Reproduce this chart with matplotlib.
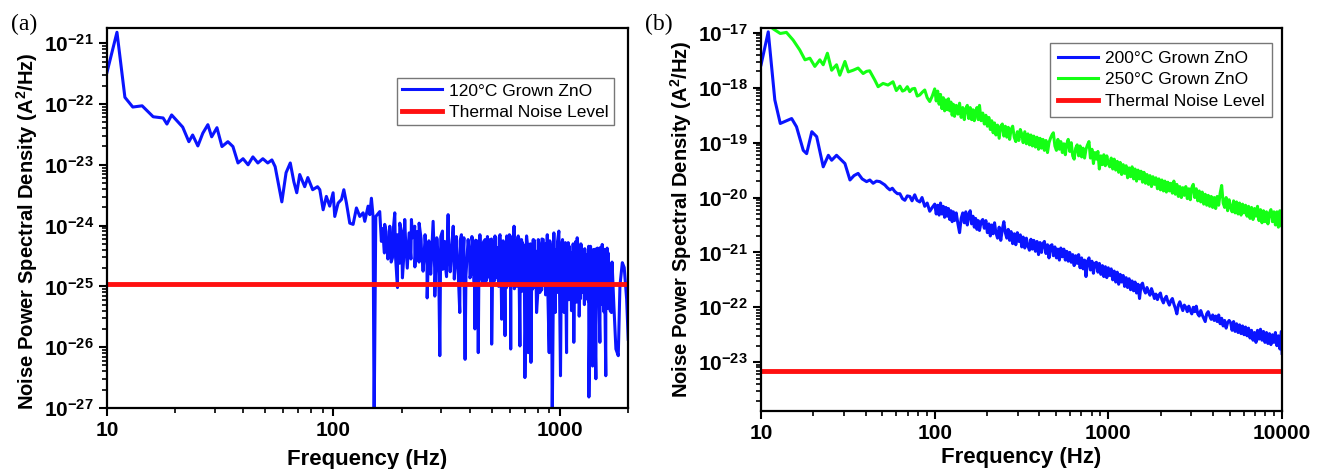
import numpy as np
import matplotlib
matplotlib.use("Agg")
import matplotlib.pyplot as plt
from matplotlib.ticker import LogLocator, FixedLocator, FuncFormatter, NullFormatter

plt.rcParams['font.family'] = ['Liberation Sans', 'DejaVu Sans']
plt.rcParams['mathtext.fontset'] = 'custom'
plt.rcParams['mathtext.rm'] = 'Liberation Sans'
plt.rcParams['mathtext.bf'] = 'Liberation Sans:bold'

# ---- panel (a): 120 C grown ZnO, frequency in Hz, PSD as log10(A^2/Hz)
freq_a = [10.0, 11.07, 12.0, 13.0, 14.3, 16.0, 17.7, 18.4, 19.3, 21.6,
          23.0, 23.9, 25.2, 26.5, 27.9, 29.0, 30.6, 32.2, 34.2, 36.0,
          37.9, 39.9, 42.0, 44.1, 46.4, 48.8, 51.3, 53.5, 55.3, 59.2,
          61.8, 64.5, 66.9, 68.9, 71.0, 74.7, 77.1, 81.0, 85.1, 87.1,
          90.1, 93.1, 96.3, 99.7, 101.4, 104.9, 108.6, 111.2, 114.2, 118.1,
          122.2, 126.4, 130.8, 135.3, 137.6, 142.3, 144.8, 147.2, 149.7, 151.3,
          153.9, 160.2, 162.9, 168.5, 174.4, 177.4, 182.3, 186.7, 191.9, 196.4,
          201.8, 206.6, 213.6, 221.1, 228.7, 232.6, 239.1, 244.8, 253.3, 259.5,
          266.5, 275.7, 280.5, 287.2, 295.1, 303.3, 310.6, 321.1, 328.6, 338.2,
          349.6, 361.6, 367.7, 377.7, 381.6, 393.6, 400.5, 407.4, 414.6, 421.7,
          428.9, 436.3, 443.7, 447.5, 451.4, 459.0, 467.2, 475.0, 483.4, 491.6,
          500.1, 508.6, 517.3, 526.0, 535.3, 544.4, 553.8, 563.3, 572.9, 582.8,
          592.7, 598.8, 606.9, 613.0, 619.4, 627.9, 634.0, 640.3, 648.0, 655.3,
          666.4, 677.8, 689.4, 701.2, 713.2, 725.5, 733.0, 745.6, 754.0, 763.1,
          776.2, 789.5, 803.1, 816.8, 831.0, 845.3, 859.8, 870.0, 880.2, 897.6,
          909.8, 925.4, 941.3, 954.2, 963.0, 973.7, 990.4, 1007, 1017, 1028,
          1045, 1058, 1071, 1089, 1107, 1126, 1140, 1153, 1177, 1193,
          1218, 1232, 1247, 1262, 1277, 1303, 1321, 1344, 1367, 1395,
          1419, 1443, 1468, 1485, 1503, 1539, 1555, 1570, 1596, 1618,
          1634, 1651, 1691, 1733, 1769, 1812, 1843, 1888, 1925, 1973,
          2005]
psd_a = [-21.48, -20.82, -21.89, -22.05, -22.03, -22.21, -22.23, -22.33, -22.18, -22.38,
         -22.62, -22.51, -22.69, -22.48, -22.34, -22.54, -22.39, -22.70, -22.62, -22.70,
         -22.97, -22.90, -23.00, -22.87, -22.97, -22.90, -22.97, -22.92, -23.03, -23.61,
         -23.13, -22.97, -23.28, -23.46, -23.16, -23.36, -23.21, -23.41, -23.36, -23.41,
         -23.74, -23.52, -23.68, -23.46, -23.85, -23.63, -23.57, -23.41, -23.63, -23.96,
         -23.98, -23.71, -23.85, -23.79, -23.93, -23.68, -23.82, -23.55, -23.85, -27.30,
         -23.85, -23.77, -24.26, -23.98, -24.39, -24.01, -24.53, -23.79, -25.02, -23.96,
         -24.86, -23.90, -24.47, -23.90, -24.01, -24.28, -23.96, -24.39, -24.28, -25.19,
         -24.39, -23.93, -25.16, -24.23, -26.14, -24.09, -24.56, -23.82, -24.72, -24.01,
         -24.34, -25.43, -24.15, -24.83, -26.20, -24.23, -24.55, -24.72, -24.28, -25.70,
         -24.56, -26.09, -24.15, -24.60, -24.78, -24.30, -24.23, -24.85, -24.72, -24.23,
         -25.95, -24.56, -24.17, -24.80, -24.72, -24.15, -25.54, -24.56, -25.81, -24.17,
         -24.72, -24.15, -26.03, -24.40, -24.17, -24.01, -24.70, -24.72, -24.25, -24.17,
         -25.98, -24.23, -24.99, -26.50, -24.17, -26.09, -24.61, -26.25, -24.50, -24.23,
         -24.78, -25.43, -24.23, -25.10, -24.45, -24.23, -24.56, -24.90, -24.15, -26.09,
         -24.34, -27.30, -24.12, -25.43, -24.60, -24.72, -24.09, -26.47, -24.50, -24.23,
         -25.43, -24.40, -26.09, -24.28, -24.67, -25.40, -24.45, -25.92, -24.26, -24.20,
         -25.49, -24.60, -24.37, -24.90, -24.48, -25.10, -24.50, -26.82, -24.34, -26.31,
         -24.39, -26.52, -24.37, -25.00, -25.92, -24.31, -24.80, -24.39, -26.47, -24.37,
         -24.70, -24.99, -25.43, -25.32, -26.03, -26.14, -24.99, -24.61, -24.69, -25.21,
         -25.87]
# extra samples read inside the dense part of the (a) trace
freq_a_dense = [165, 168, 171, 174, 177, 180, 184, 188, 192, 196,
                200, 204, 208, 212, 216, 220, 224, 229, 234, 239,
                244, 249, 254, 259, 264, 269, 274, 280, 286, 292,
                298, 304, 310, 316, 322, 328, 335, 342, 349, 356,
                363, 370, 377, 385, 393, 401, 409, 417, 425, 434,
                443, 452, 461, 470, 479, 489, 499, 509, 519, 529,
                540, 551, 562, 573, 584, 596, 608, 620, 632, 645,
                658, 671, 684, 698, 712, 726, 741, 756, 771, 786,
                802, 818, 834, 851, 868, 885, 903, 921, 939, 958,
                977, 997, 1017, 1037, 1058, 1079, 1101, 1123, 1145, 1168,
                1191, 1215, 1239, 1264, 1289, 1315, 1341, 1368, 1395, 1423,
                1452, 1481, 1511, 1541, 1572, 1603, 1635, 1668, 1701]
psd_a_dense = [-24.05, -24.45, -24.10, -24.55, -24.20, -24.60, -24.05, -24.50, -24.15, -24.62,
               -24.10, -24.58, -24.18, -24.70, -24.12, -24.55, -24.20, -24.68, -24.10, -24.60,
               -24.22, -24.75, -24.15, -24.66, -24.25, -24.80, -24.12, -24.70, -24.20, -24.78,
               -24.18, -24.72, -24.26, -24.84, -24.15, -24.76, -24.22, -24.88, -24.18, -24.80,
               -24.25, -24.90, -24.20, -24.82, -24.28, -24.86, -24.18, -24.92, -24.24, -24.80,
               -24.20, -24.88, -24.26, -24.95, -24.18, -24.84, -24.22, -24.92, -24.28, -24.86,
               -24.20, -24.95, -24.25, -24.88, -24.18, -24.98, -24.22, -24.90, -24.26, -25.00,
               -24.20, -24.92, -24.28, -25.02, -24.22, -24.95, -24.30, -25.05, -24.24, -24.98,
               -24.28, -25.05, -24.22, -24.98, -24.30, -25.08, -24.25, -25.00, -24.32, -25.10,
               -24.26, -25.05, -24.32, -25.12, -24.28, -25.02, -24.34, -25.15, -24.30, -25.08,
               -24.36, -25.15, -24.30, -25.10, -24.38, -25.20, -24.34, -25.12, -24.40, -25.25,
               -24.38, -25.18, -24.36, -25.30, -24.42, -25.35, -24.45, -25.40, -24.60]
freq_a_dense2 = [405, 413, 421, 430, 439, 448, 457, 466, 476, 486,
                 496, 506, 516, 526, 537, 548, 559, 570, 582, 594,
                 606, 618, 630, 643, 656, 669, 682, 696, 710, 724,
                 738, 753, 768, 783, 799, 815, 831, 848, 865, 882,
                 900, 918, 936, 955, 974, 993, 1013, 1033, 1054, 1075,
                 1096, 1118, 1140, 1163, 1186, 1210, 1234, 1259, 1284, 1310,
                 1336, 1363, 1390, 1418, 1446, 1475, 1505, 1535, 1566, 1597,
                 1629, 1645]
psd_a_dense2 = [-24.80, -24.30, -24.92, -24.25, -24.86, -24.35, -24.95, -24.28, -24.88, -24.32,
                -24.98, -24.26, -24.90, -24.36, -25.00, -24.30, -24.92, -24.34, -25.02, -24.28,
                -24.94, -24.38, -25.04, -24.30, -24.96, -24.36, -25.08, -24.32, -25.00, -24.40,
                -25.10, -24.34, -25.02, -24.42, -25.12, -24.36, -25.06, -24.44, -25.14, -24.38,
                -25.08, -24.46, -25.16, -24.40, -25.10, -24.48, -25.20, -24.42, -25.14, -24.50,
                -25.22, -24.44, -25.18, -24.52, -25.26, -24.46, -25.20, -24.54, -25.30, -24.48,
                -25.24, -24.56, -25.34, -24.50, -25.30, -24.58, -25.38, -24.52, -25.42, -24.60,
                -25.36, -24.70]
thermal_a = 1.1e-25

# ---- panel (b): 200 C and 250 C grown ZnO
freq_b200_low = [10.0, 11.0, 12.0, 12.9, 14.0, 15.0, 16.0, 17.5, 18.3, 19.6,
                 20.9, 22.8, 24.4, 25.5, 27.2, 29.1, 30.4, 32.5, 34.3, 36.2,
                 38.2, 40.5, 42.3, 44.2, 46.2, 48.3, 51.6, 53.3, 55.2, 57.0,
                 58.9, 61.0, 63.0, 65.2, 67.3, 69.5, 71.9, 74.0, 76.7, 79.0,
                 82.0, 84.5, 87.6, 90.5, 93.6, 96.8]
psd_b200_low = [-17.58, -16.98, -18.22, -18.65, -18.60, -18.56, -18.71, -19.14, -19.20, -18.80,
                -18.89, -19.44, -19.23, -19.32, -19.23, -19.32, -19.38, -19.68, -19.60, -19.56,
                -19.66, -19.71, -19.68, -19.74, -19.70, -19.71, -19.77, -19.82, -19.86, -19.83,
                -19.89, -19.93, -19.93, -20.02, -20.05, -19.97, -19.98, -20.06, -19.95, -20.05,
                -20.08, -20.00, -20.16, -20.10, -20.25, -20.18]
freq_b250_low = [11.0, 11.8, 12.9, 14.0, 15.3, 16.7, 17.9, 19.1, 20.4, 21.8,
                 22.8, 24.1, 25.5, 27.2, 28.4, 30.4, 31.8, 33.9, 36.2, 38.7,
                 40.5, 42.2, 45.2, 47.2, 50.4, 53.8, 57.5, 60.1, 63.0, 65.2,
                 67.3, 69.5, 71.8, 74.2, 76.7, 79.3, 82.0, 84.8, 87.6, 90.5,
                 93.6, 96.8]
psd_b250_low = [-16.85, -16.93, -17.01, -16.99, -17.13, -17.31, -17.49, -17.46, -17.61, -17.49,
                -17.58, -17.37, -17.68, -17.58, -17.77, -17.52, -17.71, -17.68, -17.64, -17.74,
                -17.70, -17.69, -17.86, -17.98, -17.92, -17.95, -17.89, -18.05, -17.97, -18.06,
                -18.04, -17.98, -18.07, -18.02, -18.01, -18.15, -18.13, -18.08, -18.04, -18.18,
                -18.25, -18.15]
# frequencies above 100 Hz, shared by both (b) traces
freq_b_high = [100, 102, 104, 106, 108, 110, 112, 114, 116, 118,
               120, 122, 124, 126, 128, 130, 133, 136, 139, 142,
               145, 148, 151, 154, 157, 160, 163, 166, 169, 172,
               175, 178, 181, 185, 189, 193, 197, 201, 205, 209,
               213, 217, 221, 225, 230, 235, 240, 245, 250, 255,
               260, 265, 270, 275, 281, 287, 293, 299, 305, 311,
               317, 323, 330, 337, 344, 351, 358, 365, 372, 380,
               388, 396, 404, 412, 420, 428, 437, 446, 455, 464,
               473, 482, 492, 502, 512, 522, 532, 543, 554, 565,
               576, 587, 599, 611, 623, 635, 648, 661, 674, 687,
               701, 715, 729, 743, 758, 773, 788, 804, 820, 836,
               853, 870, 887, 905, 923, 941, 960, 979, 998, 1018,
               1038, 1059, 1080, 1102, 1124, 1146, 1169, 1192, 1216, 1240,
               1265, 1290, 1316, 1342, 1369, 1396, 1424, 1452, 1481, 1511,
               1541, 1572, 1603, 1635, 1668, 1701, 1735, 1770, 1805, 1841,
               1878, 1916, 1954, 1993, 2033, 2074, 2115, 2157, 2200, 2244,
               2289, 2335, 2382, 2430, 2478, 2528, 2578, 2630, 2682, 2736,
               2791, 2847, 2904, 2962, 3021, 3081, 3143, 3206, 3270, 3335,
               3402, 3470, 3539, 3610, 3682, 3756, 3831, 3908, 3986, 4066,
               4147, 4230, 4315, 4401, 4489, 4579, 4671, 4764, 4859, 4956,
               5055, 5156, 5259, 5364, 5471, 5581, 5692, 5806, 5922, 6041,
               6162, 6285, 6411, 6539, 6670, 6803, 6939, 7078, 7220, 7364,
               7511, 7661, 7814, 7970, 8130, 8292, 8458, 8627, 8800, 8976,
               9155, 9338, 9525, 9716, 9910, 10000]
psd_b200_high = [-20.12, -20.30, -20.14, -20.32, -20.10, -20.30, -20.16, -20.36, -20.18, -20.34,
                 -20.20, -20.40, -20.24, -20.44, -20.26, -20.42, -20.28, -20.48, -20.64, -20.38,
                 -20.28, -20.46, -20.26, -20.50, -20.32, -20.24, -20.48, -20.34, -20.54, -20.38,
                 -20.58, -20.42, -20.60, -20.44, -20.40, -20.56, -20.42, -20.64, -20.48, -20.70,
                 -20.50, -20.66, -20.46, -20.64, -20.74, -20.54, -20.78, -20.58, -20.44, -20.64,
                 -20.74, -20.58, -20.78, -20.62, -20.84, -20.66, -20.86, -20.64, -20.80, -20.68,
                 -20.90, -20.72, -20.92, -20.74, -20.88, -20.96, -20.76, -20.94, -20.78, -20.98,
                 -20.80, -21.04, -20.82, -21.00, -20.84, -20.80, -21.02, -20.86, -21.10, -20.88,
                 -20.86, -21.06, -20.90, -21.10, -20.94, -21.14, -20.92, -21.08, -20.94, -21.14,
                 -20.98, -21.16, -21.00, -21.18, -21.04, -21.24, -21.06, -21.20, -21.04, -21.28,
                 -21.10, -21.30, -21.14, -21.44, -21.16, -21.10, -21.32, -21.16, -21.38, -21.20,
                 -21.18, -21.36, -21.20, -21.40, -21.24, -21.44, -21.26, -21.46, -21.28, -21.42,
                 -21.30, -21.50, -21.34, -21.54, -21.36, -21.58, -21.40, -21.54, -21.42, -21.62,
                 -21.46, -21.64, -21.48, -21.68, -21.52, -21.70, -21.54, -21.74, -21.58, -21.84,
                 -21.60, -21.56, -21.68, -21.74, -21.64, -21.72, -21.78, -21.66, -21.74, -21.84,
                 -21.76, -21.86, -21.78, -21.74, -21.86, -21.92, -21.84, -21.80, -21.90, -21.96,
                 -21.88, -21.84, -21.94, -22.02, -22.12, -21.96, -21.90, -21.98, -22.06, -21.96,
                 -22.00, -22.08, -21.98, -22.06, -22.12, -22.00, -22.08, -21.98, -22.12, -22.16,
                 -22.06, -22.14, -22.20, -22.26, -22.12, -22.08, -22.16, -22.22, -22.14, -22.24,
                 -22.16, -22.26, -22.14, -22.30, -22.20, -22.34, -22.24, -22.38, -22.28, -22.24,
                 -22.28, -22.42, -22.26, -22.44, -22.30, -22.46, -22.32, -22.48, -22.34, -22.50,
                 -22.36, -22.52, -22.38, -22.56, -22.42, -22.60, -22.46, -22.64, -22.42, -22.58,
                 -22.40, -22.60, -22.44, -22.64, -22.46, -22.66, -22.48, -22.68, -22.50, -22.64,
                 -22.46, -22.70, -22.52, -22.76, -22.44, -22.84]
psd_b250_high = [-18.02, -18.24, -18.06, -18.30, -18.12, -18.38, -18.18, -18.42, -18.22, -18.40,
                 -18.20, -18.42, -18.26, -18.50, -18.30, -18.52, -18.32, -18.48, -18.28, -18.54,
                 -18.36, -18.58, -18.38, -18.32, -18.56, -18.36, -18.58, -18.40, -18.60, -18.42,
                 -18.36, -18.58, -18.32, -18.60, -18.46, -18.66, -18.50, -18.70, -18.54, -18.76,
                 -18.60, -18.82, -18.64, -18.86, -18.68, -18.92, -18.70, -18.66, -18.88, -18.70,
                 -18.90, -18.72, -18.94, -18.76, -18.70, -18.90, -18.98, -18.80, -18.96, -18.76,
                 -18.84, -19.00, -18.80, -19.02, -18.84, -19.04, -18.86, -19.06, -18.88, -19.08,
                 -18.90, -19.12, -18.92, -19.10, -18.94, -19.14, -18.96, -19.18, -19.00, -18.92,
                 -18.86, -18.82, -19.06, -19.14, -18.94, -19.12, -18.98, -19.18, -19.02, -19.22,
                 -19.02, -18.94, -19.16, -19.00, -19.24, -19.30, -19.10, -19.04, -19.24, -19.06,
                 -19.26, -19.10, -19.28, -19.12, -19.04, -18.98, -19.28, -19.12, -19.38, -19.18,
                 -19.30, -19.16, -19.48, -19.24, -19.40, -19.22, -19.42, -19.24, -19.38, -19.44,
                 -19.28, -19.48, -19.30, -19.50, -19.34, -19.54, -19.36, -19.58, -19.40, -19.56,
                 -19.42, -19.64, -19.46, -19.62, -19.44, -19.66, -19.48, -19.70, -19.50, -19.66,
                 -19.52, -19.72, -19.54, -19.74, -19.58, -19.76, -19.60, -19.80, -19.62, -19.76,
                 -19.64, -19.84, -19.66, -19.86, -19.68, -19.88, -19.70, -19.90, -19.72, -19.88,
                 -19.74, -19.92, -19.70, -19.94, -19.76, -19.98, -19.80, -20.00, -19.82, -19.96,
                 -19.80, -20.02, -19.84, -20.04, -19.82, -19.76, -20.00, -19.84, -20.06, -19.88,
                 -20.08, -19.90, -20.12, -19.94, -20.14, -19.96, -20.16, -19.98, -20.18, -20.00,
                 -20.20, -19.98, -20.14, -19.92, -19.78, -20.10, -20.18, -20.00, -20.24, -20.04,
                 -20.18, -20.26, -20.06, -20.28, -20.08, -20.30, -20.10, -20.32, -20.12, -20.28,
                 -20.14, -20.34, -20.16, -20.38, -20.18, -20.40, -20.20, -20.34, -20.16, -20.42,
                 -20.22, -20.46, -20.24, -20.44, -20.26, -20.48, -20.28, -20.22, -20.44, -20.26,
                 -20.50, -20.26, -20.54, -20.24, -20.52, -20.34]
thermal_b = 6.9e-24

xticks_a = [10, 100, 1000]
xticks_b = [10, 100, 1000, 10000]
yticks_a = [1e-27, 1e-26, 1e-25, 1e-24, 1e-23, 1e-22, 1e-21]
yticks_b = [1e-23, 1e-22, 1e-21, 1e-20, 1e-19, 1e-18, 1e-17]


def merge(*parts):
    f = np.concatenate([p[0] for p in parts])
    v = np.concatenate([p[1] for p in parts])
    order = np.argsort(f, kind='stable')
    return f[order], 10.0 ** v[order]


def style_axes(ax, xticks, yticks, ylim, xlim, ylab_y, xpad):
    ax.set_xscale('log')
    ax.set_yscale('log')
    ax.set_xlim(*xlim)
    ax.set_ylim(*ylim)
    ax.xaxis.set_major_locator(FixedLocator(xticks))
    ax.xaxis.set_major_formatter(FuncFormatter(lambda v, p: '%d' % round(v)))
    ax.xaxis.set_minor_locator(LogLocator(base=10, subs=np.arange(2, 10), numticks=50))
    ax.xaxis.set_minor_formatter(NullFormatter())
    ax.yaxis.set_major_locator(FixedLocator(yticks))
    ax.yaxis.set_major_formatter(FuncFormatter(
        lambda v, p: r'$\mathbf{10^{%d}}$' % round(np.log10(v))))
    ax.yaxis.set_minor_locator(LogLocator(base=10, subs=np.arange(2, 10), numticks=50))
    ax.yaxis.set_minor_formatter(NullFormatter())
    ax.tick_params(which='major', direction='out', length=6, width=1.5,
                   labelsize=15, top=False, right=False)
    ax.tick_params(which='minor', direction='out', length=3.5, width=1.2,
                   top=False, right=False)
    for lab in ax.get_xticklabels():
        lab.set_fontweight('bold')
    for s in ax.spines.values():
        s.set_linewidth(1.6)
    ax.set_xlabel('Frequency (Hz)', fontsize=16, fontweight='bold', labelpad=xpad)
    ax.set_ylabel(r'Noise Power Spectral Density (A$^{\mathbf{2}}$/Hz)',
                  fontsize=14.5, fontweight='bold')
    ax.yaxis.set_label_coords(-0.128, ylab_y)


def add_legend(ax, anchor, pad):
    ax.legend(loc='upper right', bbox_to_anchor=anchor, borderaxespad=0,
              fontsize=12.5, frameon=True, fancybox=False, edgecolor='#555555',
              handlelength=2.3, handletextpad=0.4, borderpad=pad,
              labelspacing=0.37)


fig = plt.figure(figsize=(13.19, 4.69), dpi=100)
ax1 = fig.add_axes([0.0811, 0.1301, 0.3950, 0.8102])
ax2 = fig.add_axes([0.5770, 0.1237, 0.3950, 0.8166])

fa, pa = merge((freq_a, psd_a), (freq_a_dense, psd_a_dense),
               (freq_a_dense2, psd_a_dense2))
ax1.plot(fa, pa, color='#0a14ff', lw=2.2, label='120°C Grown ZnO')
ax1.axhline(thermal_a, color='#ff1010', lw=3.5, label='Thermal Noise Level')
style_axes(ax1, xticks_a, yticks_a, (1e-27, 10 ** -20.75), (10, 2000), 0.466, 6)
add_legend(ax1, (0.973, 0.868), 0.3)

f200, p200 = merge((freq_b200_low, psd_b200_low), (freq_b_high, psd_b200_high))
f250, p250 = merge((freq_b250_low, psd_b250_low), (freq_b_high, psd_b250_high))
ax2.plot(f200, p200, color='#0a14ff', lw=2.2, label='200°C Grown ZnO')
ax2.plot(f250, p250, color='#14ff14', lw=2.2, label='250°C Grown ZnO')
ax2.axhline(thermal_b, color='#ff1010', lw=3.5, label='Thermal Noise Level')
style_axes(ax2, xticks_b, yticks_b, (10 ** -23.89, 10 ** -16.91), (10, 10000), 0.5, 3)
add_legend(ax2, (0.981, 0.961), 0.45)

fig.text(0.008, 0.935, '(a)', fontsize=17, family='Liberation Serif')
fig.text(0.489, 0.935, '(b)', fontsize=17, family='Liberation Serif')

fig.savefig('out.png', dpi=100)
